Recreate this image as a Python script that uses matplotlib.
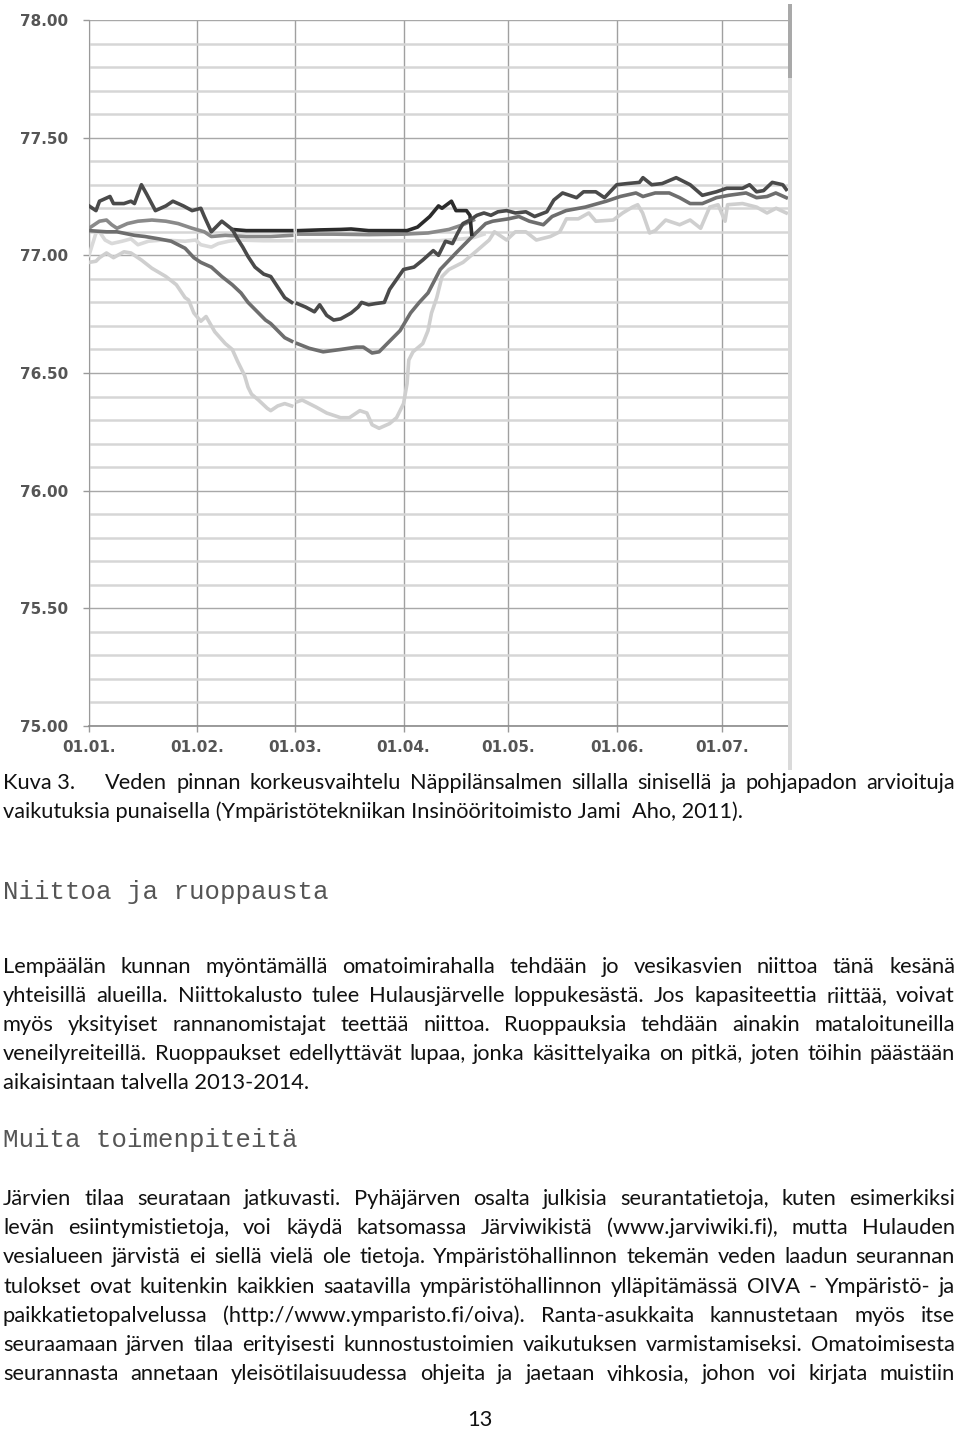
import numpy as np
import matplotlib
matplotlib.use('Agg')
import matplotlib.pyplot as plt
from matplotlib.patches import Rectangle

nan = np.nan

# water level (m), x = days counted from 01.01.
dark_days = [0, 2, 3, 6, 7, 10, 12, 13, 15, 16.5, 19, 22, 24, 27, 29.5, 32, 33, 35, 38, 41,
             42.5, 44, 45.5, 47.5, 50, 52, 54, 56, 58, 59, 59.6, 62, 64.5, 66, 68, 70, 72, 75, 77, 78,
             80, 82, 84.5, 86, 90, 93, 95.5, 98.5, 100, 102, 104, 105.5, 107, 109, 111, 113, 115, 117,
             119.5, 122, 125, 127.5, 131, 133, 135.5, 139.5, 141.5, 145, 147.5, 151, 154, 157.5, 158.5,
             161, 164, 168, 172, 175.5, 179.5, 182.5, 187, 189, 191, 193, 195.5, 198.5, 199.5]
dark_vals = [77.21, 77.19, 77.23, 77.25, 77.22, 77.22, 77.23, 77.22, 77.30, 77.26, 77.19, 77.21, 77.23,
             77.21, 77.19, 77.20, 77.165, 77.10, 77.145, 77.11, 77.07, 77.035, 76.995, 76.95, 76.92,
             76.91, 76.865, 76.82, 76.80, nan, 76.795, 76.78, 76.76, 76.79, 76.745, 76.725, 76.73,
             76.755, 76.78, 76.80, 76.79, 76.795, 76.80, 76.855, 76.94, 76.95, 76.98, 77.02, 77.00,
             77.06, 77.05, 77.095, 77.135, 77.15, 77.17, 77.18, 77.17, 77.185, 77.19, 77.18, 77.185,
             77.165, 77.185, 77.235, 77.265, 77.245, 77.27, 77.27, 77.245, 77.30, 77.305, 77.31, 77.33,
             77.30, 77.305, 77.33, 77.30, 77.255, 77.27, 77.285, 77.285, 77.30, 77.27, 77.275, 77.31,
             77.30, 77.28]

dark_dam_days = [41, 45, 50, 55, 58, 59, 60, 66, 72, 75, 80, 86, 91, 94, 97.5, 100, 101, 103.7,
                 105, 108, 109, 109.5]
dark_dam_vals = [77.11, 77.105, 77.105, 77.105, 77.105, nan, 77.105, 77.108, 77.11, 77.112, 77.105,
                 77.105, 77.105, 77.12, 77.165, 77.21, 77.20, 77.23, 77.19, 77.19, 77.17, 77.09]

mid_days = [0, 5, 8, 13, 16, 20, 23.5, 27.5, 30, 32, 35, 38, 41, 43.5, 45.5, 48.5, 50.5, 52, 56, 58,
            59, 59.6, 63, 67, 72, 76.5, 78.5, 81, 83, 86, 89, 92, 94.5, 97, 100.5, 105, 110, 113.5,
            115.5, 120, 123, 126, 130, 132.5, 136.5, 142, 148, 152, 156.5, 158.5, 162, 166, 169, 172,
            175.5, 179.5, 183, 188, 191, 194, 196.5, 199.5]
mid_vals = [77.105, 77.10, 77.10, 77.085, 77.08, 77.07, 77.06, 77.03, 76.99, 76.97, 76.95, 76.91,
            76.875, 76.84, 76.80, 76.755, 76.725, 76.71, 76.65, 76.635, nan, 76.625, 76.605, 76.59,
            76.60, 76.61, 76.61, 76.585, 76.59, 76.635, 76.68, 76.755, 76.80, 76.84, 76.94, 77.01,
            77.085, 77.135, 77.145, 77.155, 77.165, 77.145, 77.13, 77.165, 77.19, 77.205, 77.23, 77.25,
            77.265, 77.25, 77.265, 77.265, 77.245, 77.22, 77.22, 77.245, 77.255, 77.265, 77.245, 77.25,
            77.265, 77.245]

mid_dam_days = [0, 3, 5, 6.5, 8, 11, 14, 18, 22, 25.5, 29.5, 33, 35, 39, 45, 52, 58, 59, 60, 70,
                80, 90, 97, 103, 107, 110]
mid_dam_vals = [77.115, 77.145, 77.15, 77.13, 77.115, 77.135, 77.145, 77.15, 77.145, 77.135, 77.115,
                77.10, 77.08, 77.085, 77.08, 77.08, 77.085, nan, 77.09, 77.09, 77.088, 77.09, 77.095,
                77.11, 77.13, 77.15]

light_days = [0, 2, 3, 5, 7, 10, 12, 15, 18, 22, 25, 27.5, 28.5, 30, 32, 33.5, 36, 39, 41, 42.5,
              44.5, 45.5, 46.5, 48.5, 51, 52, 54, 56, 58, 59, 59.6, 61, 65, 68, 72, 74.5, 77.5, 79.5,
              81, 83, 86, 88, 90, 91, 91.5, 92.7, 95.5, 97, 98, 99.5, 101, 103, 107, 111, 114.5, 116,
              119.5, 122, 125, 128, 132, 134.7, 136.6, 140, 143, 145, 150, 152.7, 155.5, 157, 158.4,
              160.4, 162, 165, 169, 172, 175, 177.6, 180, 182, 182.7, 187, 191, 194, 196.6, 199.5]
light_vals = [76.97, 76.975, 76.99, 77.01, 76.99, 77.015, 77.01, 76.98, 76.945, 76.91, 76.875, 76.82,
              76.81, 76.755, 76.72, 76.74, 76.675, 76.625, 76.60, 76.55, 76.49, 76.44, 76.41, 76.385,
              76.35, 76.34, 76.36, 76.37, 76.36, nan, 76.378, 76.385, 76.355, 76.33, 76.31, 76.31,
              76.34, 76.33, 76.28, 76.265, 76.285, 76.31, 76.37, 76.455, 76.555, 76.59, 76.625, 76.68,
              76.755, 76.82, 76.91, 76.94, 76.97, 77.02, 77.065, 77.10, 77.065, 77.10, 77.10, 77.065,
              77.08, 77.10, 77.155, 77.155, 77.18, 77.145, 77.15, 77.18, 77.205, 77.215, 77.18, 77.095,
              77.105, 77.15, 77.13, 77.15, 77.115, 77.205, 77.215, 77.145, 77.215, 77.22, 77.205,
              77.18, 77.20, 77.18]

light_dam_days = [0, 2, 3, 4.6, 6.5, 9.5, 12, 14, 17, 21, 27.5, 30.5, 32, 35, 37, 40, 42.6, 50, 58,
                  59, 60, 70, 80, 90, 100, 107, 110, 113]
light_dam_vals = [77.00, 77.095, 77.10, 77.065, 77.05, 77.06, 77.07, 77.045, 77.06, 77.065, 77.06,
                  77.065, 77.045, 77.035, 77.05, 77.06, 77.065, 77.062, 77.062, nan, 77.062, 77.062,
                  77.062, 77.062, 77.062, 77.07, 77.075, 77.09]

month_days = [0, 31, 59, 90, 120, 151, 181]
month_labels = ['01.01.', '01.02.', '01.03.', '01.04.', '01.05.', '01.06.', '01.07.']

W, H = 960, 1429
fig = plt.figure(figsize=(W / 100, H / 100), dpi=100)
fig.patch.set_facecolor('white')

ax = fig.add_axes([89 / W, 1 - 726 / H, (788 - 89) / W, (726 - 20) / H])
lw = 2.6
ax.plot(light_dam_days, light_dam_vals, color='#d9d9d9', lw=lw, zorder=3)
ax.plot(light_days, light_vals, color='#cfcfcf', lw=lw, zorder=3)
ax.plot(mid_dam_days, mid_dam_vals, color='#8a8a8a', lw=lw, zorder=4)
ax.plot(mid_days, mid_vals, color='#6e6e6e', lw=lw, zorder=4)
ax.plot(dark_dam_days, dark_dam_vals, color='#2b2b2b', lw=lw, zorder=5)
ax.plot(dark_days, dark_vals, color='#4a4a4a', lw=lw, zorder=5)

ax.set_xlim(0, 200)
ax.set_ylim(75, 78)
ax.set_yticks(np.arange(75, 78.01, 0.5))
ax.set_yticks(np.arange(75, 78.01, 0.1), minor=True)
ax.set_yticklabels(['%.2f' % v for v in np.arange(75, 78.01, 0.5)])
ax.set_xticks(month_days)
ax.set_xticklabels(month_labels)
ax.yaxis.grid(True, which='minor', color='#d6d6d6', lw=1.8, zorder=0)
ax.yaxis.grid(True, which='major', color='#a8a8a8', lw=1.0, zorder=1)
ax.xaxis.grid(True, which='major', color='#a0a0a0', lw=1.0, zorder=1)
ax.set_axisbelow(True)
ax.tick_params(which='minor', length=0)
ax.tick_params(axis='y', which='major', length=4, width=1, color='#999999', pad=11,
               labelsize=11, labelcolor='#555555')
ax.tick_params(axis='x', which='major', length=4, width=1, color='#999999', pad=6,
               labelsize=11, labelcolor='#555555')
for lab in ax.get_xticklabels() + ax.get_yticklabels():
    lab.set_fontweight('bold')
for s in ['top', 'right']:
    ax.spines[s].set_visible(False)
ax.spines['left'].set_color('#9a9a9a')
ax.spines['bottom'].set_color('#8a8a8a')
ax.spines['bottom'].set_linewidth(1.2)

# scrollbar strip at the right edge of the screenshot
fig.add_artist(Rectangle((788 / W, 1 - 770 / H), 4 / W, 765 / H, transform=fig.transFigure,
                         color='#dadada', lw=0))
fig.add_artist(Rectangle((788 / W, 1 - 78 / H), 4 / W, 74 / H, transform=fig.transFigure,
                         color='#a9a9a9', lw=0))

# page text
r = fig.canvas.get_renderer()
body_font = ['Lato', 'DejaVu Sans']
mono_font = ['Liberation Mono', 'DejaVu Sans Mono']
ink = '#111111'


def text_width(text, size, family):
    t = fig.text(0, 0, text, fontsize=size, family=family)
    w = t.get_window_extent(renderer=r).width
    t.remove()
    return w


def put_line(text, y, size, family, x0=3, x1=955):
    # justified line: words spread between x0 and x1
    items = []
    for w in text.split(' '):
        t = fig.text(0, 1 - y / H, w, fontsize=size, family=family, color=ink, va='baseline')
        items.append((t, t.get_window_extent(renderer=r).width))
    gap = (x1 - x0 - sum(w for _, w in items)) / (len(items) - 1)
    x = x0
    for t, w in items:
        t.set_x(x / W)
        x += w + gap


caption1 = 'Veden pinnan korkeusvaihtelu Näppilänsalmen sillalla sinisellä ja pohjapadon arvioituja'
caption2 = 'vaikutuksia punaisella (Ympäristötekniikan Insinööritoimisto Jami  Aho, 2011).'

para1 = [
    'Lempäälän kunnan myöntämällä omatoimirahalla tehdään jo vesikasvien niittoa tänä kesänä',
    'yhteisillä alueilla. Niittokalusto tulee Hulausjärvelle loppukesästä. Jos kapasiteettia riittää, voivat',
    'myös yksityiset rannanomistajat teettää niittoa. Ruoppauksia tehdään ainakin mataloituneilla',
    'veneilyreiteillä. Ruoppaukset edellyttävät lupaa, jonka käsittelyaika on pitkä, joten töihin päästään',
]
para1_last = 'aikaisintaan talvella 2013-2014.'
para2 = [
    'Järvien tilaa seurataan jatkuvasti. Pyhäjärven osalta julkisia seurantatietoja, kuten esimerkiksi',
    'levän esiintymistietoja, voi käydä katsomassa Järviwikistä (www.jarviwiki.fi), mutta Hulauden',
    'vesialueen järvistä ei siellä vielä ole tietoja. Ympäristöhallinnon tekemän veden laadun seurannan',
    'tulokset ovat kuitenkin kaikkien saatavilla ympäristöhallinnon ylläpitämässä OIVA - Ympäristö- ja',
    'paikkatietopalvelussa (http://www.ymparisto.fi/oiva). Ranta-asukkaita kannustetaan myös itse',
    'seuraamaan järven tilaa erityisesti kunnostustoimien vaikutuksen varmistamiseksi. Omatoimisesta',
    'seurannasta annetaan yleisötilaisuudessa ohjeita ja jaetaan vihkosia, johon voi kirjata muistiin',
]

# biggest size at which every justified line still fits with normal spaces
body_size = min(10 * 935 / text_width(l, 10, body_font) for l in para1 + para2)
cap_size = min(10 * 740 / text_width(caption2, 10, body_font),
               10 * 840 / text_width(caption1, 10, body_font))

fig.text(3 / W, 1 - 789 / H, 'Kuva 3.', fontsize=cap_size, family=body_font, color=ink,
         va='baseline')
put_line(caption1, 789, cap_size, body_font, x0=105)
fig.text(3 / W, 1 - 818 / H, caption2, fontsize=cap_size, family=body_font, color=ink,
         va='baseline')

fig.text(3 / W, 1 - 899 / H, 'Niittoa ja ruoppausta', fontsize=18.5, family=mono_font,
         color='#555555', va='baseline')

for i, line in enumerate(para1):
    put_line(line, 973 + 29 * i, body_size, body_font)
fig.text(3 / W, 1 - (973 + 29 * 4) / H, para1_last, fontsize=body_size,
         family=body_font, color=ink, va='baseline')

fig.text(3 / W, 1 - 1147 / H, 'Muita toimenpiteitä', fontsize=18.5, family=mono_font,
         color='#555555', va='baseline')

for i, line in enumerate(para2):
    put_line(line, 1205 + 29.2 * i, body_size, body_font)

fig.text(480 / W, 1 - 1426 / H, '13', fontsize=body_size, family=body_font, color=ink,
         va='baseline', ha='center')

fig.savefig('out.png', dpi=100, facecolor='white')
